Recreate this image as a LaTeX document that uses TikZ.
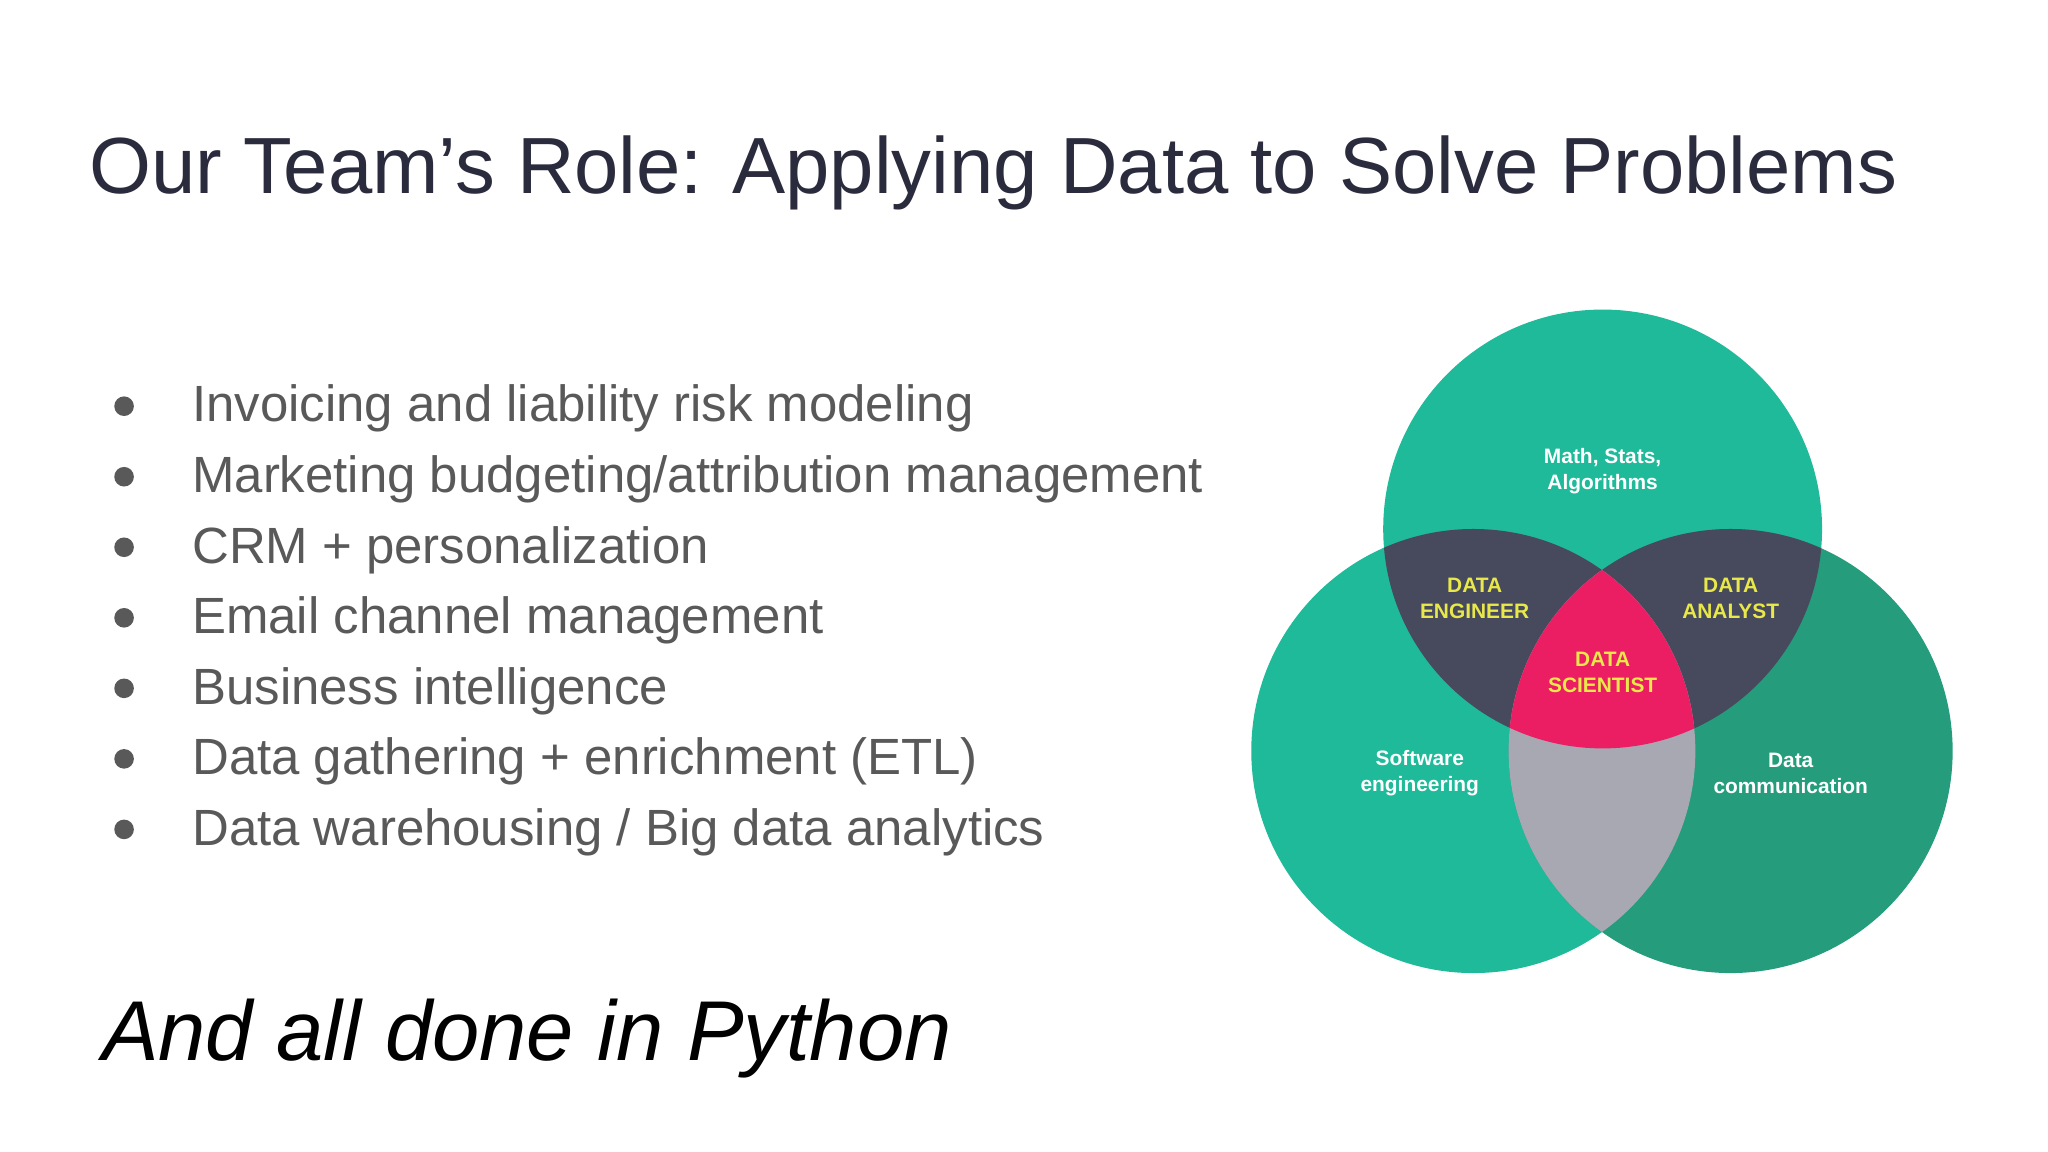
\documentclass[tikz,border=0pt]{standalone}
\usepackage{fontspec}
\setmainfont{Liberation Sans}
\definecolor{teal}{HTML}{1FBA9A}
\definecolor{dteal}{HTML}{259C7C}
\definecolor{slate}{HTML}{474A5C}
\definecolor{pinkc}{HTML}{EC1E63}
\definecolor{grayc}{HTML}{A8A8B3}
\definecolor{titlec}{HTML}{2A2B3D}
\definecolor{bulletc}{HTML}{595959}
\definecolor{yel}{HTML}{E8E84A}
\begin{document}
\begin{tikzpicture}[x=1pt,y=-1pt,
  bul/.style={anchor=west,text=bulletc,font=\fontsize{39}{41}\selectfont,inner sep=0},
  dot/.style={circle,fill=bulletc,inner sep=0,minimum size=15},
  vl/.style={align=center,font=\bfseries\fontsize{16}{20}\selectfont,text=white},
  yl/.style={align=center,font=\bfseries\fontsize{16}{20}\selectfont,text=yel}]
\useasboundingbox[fill=white] (0,0) rectangle (1568,882);
\node[anchor=west,text=titlec,font=\fontsize{61}{64}\selectfont,inner sep=0] (title) at (68,132) {Our Team’s Role: Applying Data to Solve Problems};
\foreach \t [count=\i] in {Invoicing and liability risk modeling,Marketing budgeting/attribution management,CRM + personalization,Email channel management,Business intelligence,Data gathering + enrichment (ETL),Data warehousing / Big data analytics}{
  \node[dot] (d\i) at (95,{311+54*(\i-1)}) {};
  \node[bul] (b\i) at (147,{313+54*(\i-1)}) {\t};
}
\node[anchor=west,font=\itshape\fontsize{65}{68}\selectfont,inner sep=0] (py) at (78,795) {And all done in Python};
% venn
\def\T{(1227,405) circle (168)}
\def\L{(1128,575) circle (170)}
\def\R{(1325,575) circle (170)}
\fill[teal] \T; \fill[teal] \L; \fill[dteal] \R;
\begin{scope}\clip \T; \fill[slate] \L; \fill[slate] \R; \end{scope}
\begin{scope}\clip \L; \fill[grayc] \R; \end{scope}
\begin{scope}\clip \T; \clip \L; \fill[pinkc] \R; \end{scope}
\node[vl] (m) at (1227,361) {Math, Stats,\\Algorithms};
\node[yl] (de) at (1129,458) {DATA\\ENGINEER};
\node[yl] (da) at (1325,458) {DATA\\ANALYST};
\node[yl] (ds) at (1227,515) {DATA\\SCIENTIST};
\node[vl] (se) at (1087,592) {Software\\engineering};
\node[vl] (dc) at (1371,592) {Data\\communication};
\end{tikzpicture}
\end{document}
